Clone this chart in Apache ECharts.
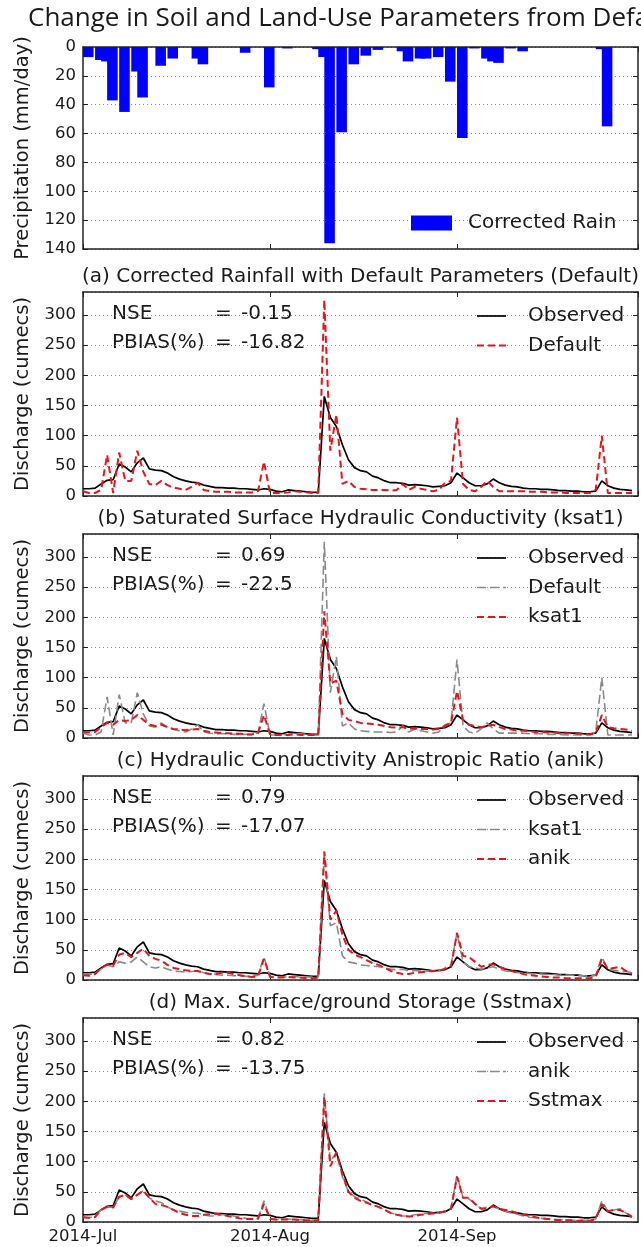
<!DOCTYPE html>
<html>
<head>
<meta charset="utf-8">
<script src="https://cdn.jsdelivr.net/npm/echarts@6/dist/echarts.min.js"></script>
<style>html,body{margin:0;padding:0;background:#fff}#c{width:641px;height:1247px}</style>
</head>
<body>
<div id="c"></div>
<script>
// ---------------- DATA (daily, index 0 = 2014-07-01 ... 91 = 2014-09-30) ----------------
const monthLabels = ['2014-Jul', '2014-Aug', '2014-Sep'];
const monthStartDays = [0, 31, 62];
const AXIS_DAYS = 92; // 2014-07-01 .. 2014-10-01

const precip = [
  7,0,9,10,37,0,45,0,17,35,
  0,0,13,0,8,0,0,0,8,12,
  0,0,0,0,0,0,4,0,0,0,
  28,0,0,1,0,0,0,0,1.5,7,
  136,0,59,0,12,0,6,0,2,0,
  0,0,3,10,0,8,8,0,7,0,
  24,0,63,0,1,0,8,10,11,0,
  1,0,3,0,0,0,0,0,0,0,
  0,0,0,0,0,1.5,55,0,0,0,
  0,0
];
const observed = [
  12,12,13,20,26,27,53,48,40,55,
  63,45,43,42,38,32,28,25,23,22,
  18,16,14,14,13,13,12,12,11,10,
  12,11,8,7,10,9,8,7,6,6,
  165,130,115,85,60,47,42,40,33,30,
  25,22,22,21,18,19,18,17,15,16,
  17,22,38,30,22,17,17,20,28,22,
  18,16,15,13,12,12,11,11,10,9,
  9,8,8,7,7,8,25,17,13,11,
  10,9
];
const defaultQ = [
  8,5,5,10,68,5,72,25,25,75,
  40,20,18,25,18,14,12,10,15,22,
  10,8,7,7,7,6,6,6,6,8,
  57,5,5,5,6,8,7,6,5,5,
  325,75,135,20,25,15,12,11,10,10,
  10,9,10,20,10,15,12,10,8,10,
  22,25,130,20,10,8,15,25,15,8,
  8,8,8,8,7,7,7,6,6,6,
  5,5,5,5,5,10,100,5,5,5,
  5,5
];
const ksat1 = [
  10,9,10,18,25,22,30,28,30,38,
  30,22,20,22,18,15,14,13,14,15,
  12,10,9,8,8,7,7,6,6,8,
  38,6,5,5,5,6,5,5,5,5,
  210,90,95,40,30,28,25,24,23,22,
  20,18,17,18,15,16,15,15,14,15,
  20,25,78,30,22,20,18,20,22,18,
  15,14,12,12,11,10,10,9,9,8,
  8,8,7,7,6,8,38,18,16,15,
  14,12
];
const anik = [
  8,7,10,20,25,24,42,45,38,45,
  52,40,35,32,25,20,18,16,15,15,
  12,10,10,12,12,10,8,6,5,6,
  35,5,4,4,5,4,4,3,3,4,
  213,100,115,75,50,42,38,33,28,25,
  20,15,12,10,10,12,13,14,15,15,
  18,22,78,40,38,30,22,25,26,22,
  18,15,13,10,8,7,6,5,4,4,
  3,3,3,3,3,5,35,18,20,22,
  15,10
];
const sstmax = [
  8,7,8,20,25,24,42,45,38,45,
  52,40,30,28,25,20,15,12,10,10,
  12,13,14,12,10,8,6,5,5,5,
  30,5,4,4,4,4,3,3,2,2,
  208,92,115,80,50,40,35,32,28,25,
  20,15,12,10,9,10,12,13,14,15,
  18,22,75,40,40,30,22,22,26,22,
  20,18,15,12,10,8,6,5,4,3,
  3,3,2,2,2,5,30,18,20,20,
  15,8
];
const panelTitles = [
  '(a) Corrected Rainfall with Default Parameters (Default)',
  '(b) Saturated Surface Hydraulic Conductivity (ksat1)',
  '(c) Hydraulic Conductivity Anistropic Ratio (anik)',
  '(d) Max. Surface/ground Storage (Sstmax)'
];
const nseValues = ['-0.15', '0.69', '0.79', '0.82'];
const pbiasValues = ['-16.82', '-22.5', '-17.07', '-13.75'];
const mainTitle = 'Change in Soil and Land-Use Parameters from Default';
// per panel: [name, values, style]  style: 'obs' | 'ref' (grey dashed) | 'sim' (red dashed)
const panelSeries = [
  [['Observed', observed, 'obs'], ['Default', defaultQ, 'sim']],
  [['Observed', observed, 'obs'], ['Default', defaultQ, 'ref'], ['ksat1', ksat1, 'sim']],
  [['Observed', observed, 'obs'], ['ksat1', ksat1, 'ref'], ['anik', anik, 'sim']],
  [['Observed', observed, 'obs'], ['anik', anik, 'ref'], ['Sstmax', sstmax, 'sim']]
];

// ---------------- LAYOUT / STYLE ----------------
const FONT = 'DejaVu Sans';
const TEXT = '#1a1a1a';
const L = 83, R = 3;
const PLOT_W = 641 - L - R;
const precipBox = { top: 47, height: 202 };
const panelTops = [292, 534, 776, 1018];
const PH = 204;
const QMAX = 338;
const BAR_SPAN_DAYS = 1.75;

const lineStyles = {
  obs: { color: '#000000', width: 1.7, type: 'solid' },
  ref: { color: '#8a8a8a', width: 1.6, type: [9, 4] },
  sim: { color: '#e8141b', width: 2, type: [7, 4] }
};
const gridLine = { show: true, lineStyle: { color: '#8c8c8c', width: 1, type: [1, 3] } };
const spine = { show: true, onZero: false, lineStyle: { color: '#222', width: 1.5 } };
const tick = { show: true, inside: true, length: 5, lineStyle: { color: '#222', width: 1 } };

const grids = [], xAxes = [], yAxes = [], series = [], legends = [], elements = [];

function monthLabel(v) {
  const k = monthStartDays.indexOf(v);
  return k >= 0 ? monthLabels[k] : '';
}

function addGrid(top, height, yOpt, yName, showX, yFormatter) {
  const g = grids.length;
  grids.push({ left: L, right: R, top: top, height: height, outerBoundsMode: 'none', containLabel: false });
  const xBase = { type: 'value', gridIndex: g, min: 0, max: AXIS_DAYS, interval: 31, axisLine: spine, axisTick: tick, splitLine: { show: false } };
  xAxes.push(Object.assign({}, xBase, {
    position: 'bottom',
    axisLabel: { show: showX, formatter: monthLabel, fontSize: 16.5, fontFamily: FONT, color: TEXT, margin: 6, showMaxLabel: false, hideOverlap: false }
  }));
  xAxes.push(Object.assign({}, xBase, { position: 'top', axisLabel: { show: false } }));
  const yBase = Object.assign({ type: 'value', gridIndex: g, axisLine: spine, axisTick: tick }, yOpt);
  yAxes.push(Object.assign({}, yBase, {
    position: 'left',
    splitLine: gridLine,
    axisLabel: { show: true, fontSize: 16.5, fontFamily: FONT, color: TEXT, margin: 7, formatter: yFormatter, showMaxLabel: yOpt.inverse ? true : false },
    name: yName, nameLocation: 'middle', nameGap: 50, nameRotate: 90,
    nameTextStyle: { fontSize: 19.5, fontFamily: FONT, color: TEXT }
  }));
  yAxes.push(Object.assign({}, yBase, { position: 'right', splitLine: { show: false }, axisLabel: { show: false } }));
  return g;
}

// Precipitation panel
const gp = addGrid(precipBox.top, precipBox.height, { min: 0, max: 140, interval: 20, inverse: true }, 'Precipitation (mm/day)', false, v => String(v));
series.push({
  type: 'bar', name: 'p|Corrected Rain', xAxisIndex: gp * 2, yAxisIndex: gp * 2,
  data: precip.map((v, i) => [i + BAR_SPAN_DAYS / 2, v]),
  barWidth: BAR_SPAN_DAYS * PLOT_W / AXIS_DAYS,
  itemStyle: { color: '#0000ff' }, animation: false
});
legends.push({
  orient: 'vertical', left: 411, top: 223 - 11, padding: 0, selectedMode: false,
  icon: 'rect', itemWidth: 41, itemHeight: 15,
  data: ['p|Corrected Rain'], formatter: n => n.split('|')[1],
  textStyle: { fontFamily: FONT, fontSize: 20, color: TEXT, lineHeight: 22, padding: [0, 0, 0, 11] }
});

// Discharge panels
panelTops.forEach((top, p) => {
  const g = addGrid(top, PH, { min: 0, max: QMAX, interval: 50 }, 'Discharge (cumecs)', p === panelTops.length - 1,
    v => (v % 50 === 0 ? String(v) : ''));
  const tag = 'abcd'[p];
  const legendData = [];
  panelSeries[p].forEach(([name, vals, st]) => {
    const sname = tag + '|' + name;
    series.push({
      type: 'line', name: sname, xAxisIndex: g * 2, yAxisIndex: g * 2,
      data: vals.map((v, i) => [i, v]),
      symbol: 'none', showSymbol: false,
      lineStyle: lineStyles[st], itemStyle: { color: lineStyles[st].color },
      animation: false
    });
    legendData.push({ name: sname, itemStyle: { opacity: 0 }, lineStyle: lineStyles[st] });
  });
  legends.push({
    orient: 'vertical', left: 476, top: top + 13, padding: 0, selectedMode: false,
    itemWidth: 29, itemHeight: 14, itemGap: 7.5,
    itemStyle: { opacity: 0 },
    data: legendData, formatter: n => n.split('|')[1],
    textStyle: { fontFamily: FONT, fontSize: 20, color: TEXT, lineHeight: 22, padding: [0, 0, 0, 17] }
  });
  const t = (text, x, y, align) => ({
    type: 'text', x: x, y: y, silent: true,
    style: { text: text, font: '20px "' + FONT + '"', fill: TEXT, textAlign: align || 'left', align: align || 'left', textVerticalAlign: 'middle', verticalAlign: 'middle' }
  });
  elements.push(t(panelTitles[p], L + PLOT_W / 2, top - 15, 'center'));
  elements.push(t('NSE', 112, top + 22));
  elements.push(t('=', 215, top + 22));
  elements.push(t(nseValues[p], 241, top + 22));
  elements.push(t('PBIAS(%)', 112, top + 51));
  elements.push(t('=', 215, top + 51));
  elements.push(t(pbiasValues[p], 241, top + 51));
});

elements.push({
  type: 'text', x: 28, y: 19, silent: true,
  style: { text: mainTitle, font: '26px "Open Sans"', fill: TEXT, textAlign: 'left', align: 'left', textVerticalAlign: 'middle', verticalAlign: 'middle' }
});

const chart = echarts.init(document.getElementById('c'), null, { renderer: 'canvas', width: 641, height: 1247 });
chart.setOption({
  animation: false,
  backgroundColor: '#ffffff',
  grid: grids,
  xAxis: xAxes,
  yAxis: yAxes,
  legend: legends,
  series: series,
  graphic: { elements: elements }
});
</script>
</body>
</html>
